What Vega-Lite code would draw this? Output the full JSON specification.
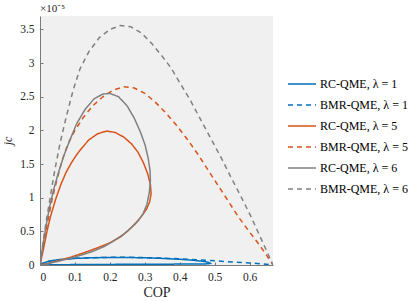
{
  "$schema": "https://vega.github.io/schema/vega-lite/v6.json",
  "width": 233,
  "height": 249,
  "autosize": {"type": "none"},
  "padding": {"left": 40, "top": 16, "right": 142, "bottom": 36},
  "background": "white",
  "title": {"text": "×10⁻⁵", "anchor": "start", "frame": "group", "font": "Liberation Serif", "fontSize": 11, "fontWeight": "normal", "color": "#262626", "offset": 2},
  "config": {
    "font": "Liberation Serif",
    "view": {"fill": "#F0F0F0", "stroke": null},
    "axis": {"grid": false, "labelFont": "Liberation Serif", "titleFont": "Liberation Serif", "labelFontSize": 11.5, "labelColor": "#262626", "titleFontWeight": "normal", "titleColor": "#262626", "domainColor": "#7a7a7a", "tickColor": "#7a7a7a", "tickSize": -3, "labelPadding": 9},
    "legend": {"labelFont": "Liberation Serif", "orient": "none", "legendX": 247, "legendY": 53}
  },
  "data": {"values": [
    {"s":"RC-QME, λ = 1","i":0,"x":0,"y":0},
    {"s":"RC-QME, λ = 1","i":1,"x":0.01,"y":0.03},
    {"s":"RC-QME, λ = 1","i":2,"x":0.025,"y":0.055},
    {"s":"RC-QME, λ = 1","i":3,"x":0.05,"y":0.078},
    {"s":"RC-QME, λ = 1","i":4,"x":0.1,"y":0.098},
    {"s":"RC-QME, λ = 1","i":5,"x":0.15,"y":0.108},
    {"s":"RC-QME, λ = 1","i":6,"x":0.2,"y":0.112},
    {"s":"RC-QME, λ = 1","i":7,"x":0.25,"y":0.112},
    {"s":"RC-QME, λ = 1","i":8,"x":0.3,"y":0.107},
    {"s":"RC-QME, λ = 1","i":9,"x":0.35,"y":0.098},
    {"s":"RC-QME, λ = 1","i":10,"x":0.4,"y":0.085},
    {"s":"RC-QME, λ = 1","i":11,"x":0.44,"y":0.07},
    {"s":"RC-QME, λ = 1","i":12,"x":0.47,"y":0.052},
    {"s":"RC-QME, λ = 1","i":13,"x":0.485,"y":0.035},
    {"s":"RC-QME, λ = 1","i":14,"x":0.488,"y":0.022},
    {"s":"RC-QME, λ = 1","i":15,"x":0.475,"y":0.016},
    {"s":"RC-QME, λ = 1","i":16,"x":0.42,"y":0.014},
    {"s":"RC-QME, λ = 1","i":17,"x":0.35,"y":0.012},
    {"s":"RC-QME, λ = 1","i":18,"x":0.25,"y":0.01},
    {"s":"RC-QME, λ = 1","i":19,"x":0.15,"y":0.008},
    {"s":"RC-QME, λ = 1","i":20,"x":0.07,"y":0.005},
    {"s":"RC-QME, λ = 1","i":21,"x":0,"y":0},
    {"s":"BMR-QME, λ = 1","i":0,"x":0,"y":0},
    {"s":"BMR-QME, λ = 1","i":1,"x":0.01,"y":0.03},
    {"s":"BMR-QME, λ = 1","i":2,"x":0.025,"y":0.055},
    {"s":"BMR-QME, λ = 1","i":3,"x":0.05,"y":0.078},
    {"s":"BMR-QME, λ = 1","i":4,"x":0.1,"y":0.099},
    {"s":"BMR-QME, λ = 1","i":5,"x":0.15,"y":0.109},
    {"s":"BMR-QME, λ = 1","i":6,"x":0.2,"y":0.114},
    {"s":"BMR-QME, λ = 1","i":7,"x":0.25,"y":0.114},
    {"s":"BMR-QME, λ = 1","i":8,"x":0.3,"y":0.11},
    {"s":"BMR-QME, λ = 1","i":9,"x":0.35,"y":0.102},
    {"s":"BMR-QME, λ = 1","i":10,"x":0.4,"y":0.092},
    {"s":"BMR-QME, λ = 1","i":11,"x":0.45,"y":0.078},
    {"s":"BMR-QME, λ = 1","i":12,"x":0.5,"y":0.062},
    {"s":"BMR-QME, λ = 1","i":13,"x":0.55,"y":0.046},
    {"s":"BMR-QME, λ = 1","i":14,"x":0.6,"y":0.03},
    {"s":"BMR-QME, λ = 1","i":15,"x":0.635,"y":0.017},
    {"s":"BMR-QME, λ = 1","i":16,"x":0.667,"y":0},
    {"s":"RC-QME, λ = 5","i":0,"x":0,"y":0},
    {"s":"RC-QME, λ = 5","i":1,"x":0.004,"y":0.1},
    {"s":"RC-QME, λ = 5","i":2,"x":0.01,"y":0.24},
    {"s":"RC-QME, λ = 5","i":3,"x":0.02,"y":0.5},
    {"s":"RC-QME, λ = 5","i":4,"x":0.03,"y":0.72},
    {"s":"RC-QME, λ = 5","i":5,"x":0.045,"y":0.98},
    {"s":"RC-QME, λ = 5","i":6,"x":0.06,"y":1.2},
    {"s":"RC-QME, λ = 5","i":7,"x":0.075,"y":1.38},
    {"s":"RC-QME, λ = 5","i":8,"x":0.09,"y":1.52},
    {"s":"RC-QME, λ = 5","i":9,"x":0.105,"y":1.64},
    {"s":"RC-QME, λ = 5","i":10,"x":0.12,"y":1.74},
    {"s":"RC-QME, λ = 5","i":11,"x":0.14,"y":1.86},
    {"s":"RC-QME, λ = 5","i":12,"x":0.165,"y":1.95},
    {"s":"RC-QME, λ = 5","i":13,"x":0.19,"y":1.99},
    {"s":"RC-QME, λ = 5","i":14,"x":0.215,"y":1.97},
    {"s":"RC-QME, λ = 5","i":15,"x":0.24,"y":1.9},
    {"s":"RC-QME, λ = 5","i":16,"x":0.262,"y":1.8},
    {"s":"RC-QME, λ = 5","i":17,"x":0.28,"y":1.68},
    {"s":"RC-QME, λ = 5","i":18,"x":0.296,"y":1.52},
    {"s":"RC-QME, λ = 5","i":19,"x":0.308,"y":1.36},
    {"s":"RC-QME, λ = 5","i":20,"x":0.316,"y":1.2},
    {"s":"RC-QME, λ = 5","i":21,"x":0.318,"y":1.06},
    {"s":"RC-QME, λ = 5","i":22,"x":0.314,"y":0.94},
    {"s":"RC-QME, λ = 5","i":23,"x":0.305,"y":0.83},
    {"s":"RC-QME, λ = 5","i":24,"x":0.29,"y":0.72},
    {"s":"RC-QME, λ = 5","i":25,"x":0.27,"y":0.6},
    {"s":"RC-QME, λ = 5","i":26,"x":0.25,"y":0.5},
    {"s":"RC-QME, λ = 5","i":27,"x":0.234,"y":0.43},
    {"s":"RC-QME, λ = 5","i":28,"x":0.2,"y":0.33},
    {"s":"RC-QME, λ = 5","i":29,"x":0.167,"y":0.26},
    {"s":"RC-QME, λ = 5","i":30,"x":0.13,"y":0.19},
    {"s":"RC-QME, λ = 5","i":31,"x":0.09,"y":0.12},
    {"s":"RC-QME, λ = 5","i":32,"x":0.05,"y":0.06},
    {"s":"RC-QME, λ = 5","i":33,"x":0.02,"y":0.02},
    {"s":"RC-QME, λ = 5","i":34,"x":0,"y":0},
    {"s":"BMR-QME, λ = 5","i":0,"x":0,"y":0},
    {"s":"BMR-QME, λ = 5","i":1,"x":0.006,"y":0.18},
    {"s":"BMR-QME, λ = 5","i":2,"x":0.015,"y":0.45},
    {"s":"BMR-QME, λ = 5","i":3,"x":0.025,"y":0.72},
    {"s":"BMR-QME, λ = 5","i":4,"x":0.034,"y":0.96},
    {"s":"BMR-QME, λ = 5","i":5,"x":0.05,"y":1.3},
    {"s":"BMR-QME, λ = 5","i":6,"x":0.065,"y":1.58},
    {"s":"BMR-QME, λ = 5","i":7,"x":0.08,"y":1.8},
    {"s":"BMR-QME, λ = 5","i":8,"x":0.1,"y":2.0},
    {"s":"BMR-QME, λ = 5","i":9,"x":0.125,"y":2.2},
    {"s":"BMR-QME, λ = 5","i":10,"x":0.15,"y":2.36},
    {"s":"BMR-QME, λ = 5","i":11,"x":0.18,"y":2.5},
    {"s":"BMR-QME, λ = 5","i":12,"x":0.21,"y":2.6},
    {"s":"BMR-QME, λ = 5","i":13,"x":0.24,"y":2.65},
    {"s":"BMR-QME, λ = 5","i":14,"x":0.27,"y":2.63},
    {"s":"BMR-QME, λ = 5","i":15,"x":0.3,"y":2.55},
    {"s":"BMR-QME, λ = 5","i":16,"x":0.33,"y":2.42},
    {"s":"BMR-QME, λ = 5","i":17,"x":0.36,"y":2.26},
    {"s":"BMR-QME, λ = 5","i":18,"x":0.39,"y":2.08},
    {"s":"BMR-QME, λ = 5","i":19,"x":0.42,"y":1.88},
    {"s":"BMR-QME, λ = 5","i":20,"x":0.45,"y":1.66},
    {"s":"BMR-QME, λ = 5","i":21,"x":0.48,"y":1.42},
    {"s":"BMR-QME, λ = 5","i":22,"x":0.51,"y":1.18},
    {"s":"BMR-QME, λ = 5","i":23,"x":0.54,"y":0.94},
    {"s":"BMR-QME, λ = 5","i":24,"x":0.57,"y":0.7},
    {"s":"BMR-QME, λ = 5","i":25,"x":0.6,"y":0.49},
    {"s":"BMR-QME, λ = 5","i":26,"x":0.625,"y":0.32},
    {"s":"BMR-QME, λ = 5","i":27,"x":0.648,"y":0.15},
    {"s":"BMR-QME, λ = 5","i":28,"x":0.667,"y":0},
    {"s":"RC-QME, λ = 6","i":0,"x":0,"y":0},
    {"s":"RC-QME, λ = 6","i":1,"x":0.004,"y":0.15},
    {"s":"RC-QME, λ = 6","i":2,"x":0.01,"y":0.35},
    {"s":"RC-QME, λ = 6","i":3,"x":0.018,"y":0.6},
    {"s":"RC-QME, λ = 6","i":4,"x":0.027,"y":0.85},
    {"s":"RC-QME, λ = 6","i":5,"x":0.038,"y":1.1},
    {"s":"RC-QME, λ = 6","i":6,"x":0.052,"y":1.36},
    {"s":"RC-QME, λ = 6","i":7,"x":0.068,"y":1.62},
    {"s":"RC-QME, λ = 6","i":8,"x":0.085,"y":1.85},
    {"s":"RC-QME, λ = 6","i":9,"x":0.105,"y":2.1},
    {"s":"RC-QME, λ = 6","i":10,"x":0.13,"y":2.32},
    {"s":"RC-QME, λ = 6","i":11,"x":0.155,"y":2.47},
    {"s":"RC-QME, λ = 6","i":12,"x":0.18,"y":2.54},
    {"s":"RC-QME, λ = 6","i":13,"x":0.2,"y":2.55},
    {"s":"RC-QME, λ = 6","i":14,"x":0.225,"y":2.5},
    {"s":"RC-QME, λ = 6","i":15,"x":0.25,"y":2.36},
    {"s":"RC-QME, λ = 6","i":16,"x":0.27,"y":2.18},
    {"s":"RC-QME, λ = 6","i":17,"x":0.288,"y":1.97},
    {"s":"RC-QME, λ = 6","i":18,"x":0.301,"y":1.78},
    {"s":"RC-QME, λ = 6","i":19,"x":0.31,"y":1.58},
    {"s":"RC-QME, λ = 6","i":20,"x":0.315,"y":1.4},
    {"s":"RC-QME, λ = 6","i":21,"x":0.316,"y":1.25},
    {"s":"RC-QME, λ = 6","i":22,"x":0.313,"y":1.08},
    {"s":"RC-QME, λ = 6","i":23,"x":0.306,"y":0.9},
    {"s":"RC-QME, λ = 6","i":24,"x":0.295,"y":0.76},
    {"s":"RC-QME, λ = 6","i":25,"x":0.28,"y":0.65},
    {"s":"RC-QME, λ = 6","i":26,"x":0.26,"y":0.55},
    {"s":"RC-QME, λ = 6","i":27,"x":0.24,"y":0.46},
    {"s":"RC-QME, λ = 6","i":28,"x":0.215,"y":0.37},
    {"s":"RC-QME, λ = 6","i":29,"x":0.186,"y":0.28},
    {"s":"RC-QME, λ = 6","i":30,"x":0.15,"y":0.2},
    {"s":"RC-QME, λ = 6","i":31,"x":0.12,"y":0.15},
    {"s":"RC-QME, λ = 6","i":32,"x":0.09,"y":0.105},
    {"s":"RC-QME, λ = 6","i":33,"x":0.06,"y":0.065},
    {"s":"RC-QME, λ = 6","i":34,"x":0.03,"y":0.03},
    {"s":"RC-QME, λ = 6","i":35,"x":0,"y":0},
    {"s":"BMR-QME, λ = 6","i":0,"x":0,"y":0},
    {"s":"BMR-QME, λ = 6","i":1,"x":0.005,"y":0.2},
    {"s":"BMR-QME, λ = 6","i":2,"x":0.012,"y":0.45},
    {"s":"BMR-QME, λ = 6","i":3,"x":0.02,"y":0.72},
    {"s":"BMR-QME, λ = 6","i":4,"x":0.029,"y":1.0},
    {"s":"BMR-QME, λ = 6","i":5,"x":0.042,"y":1.4},
    {"s":"BMR-QME, λ = 6","i":6,"x":0.057,"y":1.8},
    {"s":"BMR-QME, λ = 6","i":7,"x":0.075,"y":2.2},
    {"s":"BMR-QME, λ = 6","i":8,"x":0.095,"y":2.6},
    {"s":"BMR-QME, λ = 6","i":9,"x":0.115,"y":2.92},
    {"s":"BMR-QME, λ = 6","i":10,"x":0.14,"y":3.17},
    {"s":"BMR-QME, λ = 6","i":11,"x":0.17,"y":3.38},
    {"s":"BMR-QME, λ = 6","i":12,"x":0.2,"y":3.5},
    {"s":"BMR-QME, λ = 6","i":13,"x":0.23,"y":3.56},
    {"s":"BMR-QME, λ = 6","i":14,"x":0.26,"y":3.54},
    {"s":"BMR-QME, λ = 6","i":15,"x":0.29,"y":3.45},
    {"s":"BMR-QME, λ = 6","i":16,"x":0.32,"y":3.29},
    {"s":"BMR-QME, λ = 6","i":17,"x":0.35,"y":3.1},
    {"s":"BMR-QME, λ = 6","i":18,"x":0.375,"y":2.93},
    {"s":"BMR-QME, λ = 6","i":19,"x":0.4,"y":2.71},
    {"s":"BMR-QME, λ = 6","i":20,"x":0.43,"y":2.45},
    {"s":"BMR-QME, λ = 6","i":21,"x":0.46,"y":2.16},
    {"s":"BMR-QME, λ = 6","i":22,"x":0.49,"y":1.87},
    {"s":"BMR-QME, λ = 6","i":23,"x":0.52,"y":1.58},
    {"s":"BMR-QME, λ = 6","i":24,"x":0.546,"y":1.31},
    {"s":"BMR-QME, λ = 6","i":25,"x":0.575,"y":1.02},
    {"s":"BMR-QME, λ = 6","i":26,"x":0.603,"y":0.73},
    {"s":"BMR-QME, λ = 6","i":27,"x":0.625,"y":0.48},
    {"s":"BMR-QME, λ = 6","i":28,"x":0.647,"y":0.23},
    {"s":"BMR-QME, λ = 6","i":29,"x":0.667,"y":0}
  ]},
  "mark": {"type": "line", "strokeWidth": 1.5, "clip": true},
  "encoding": {
    "x": {"field": "x", "type": "quantitative", "scale": {"domain": [0, 0.667], "nice": false}, "axis": {"values": [0, 0.1, 0.2, 0.3, 0.4, 0.5, 0.6], "format": "~g", "title": "COP", "titleFontSize": 14, "titlePadding": 3}},
    "y": {"field": "y", "type": "quantitative", "scale": {"domain": [0, 3.7], "nice": false}, "axis": {"values": [0, 0.5, 1, 1.5, 2, 2.5, 3, 3.5], "format": "~g", "title": "jc", "titleFontStyle": "italic", "titleFontSize": 12, "titlePadding": 5}},
    "order": {"field": "i", "type": "quantitative"},
    "color": {"field": "s", "type": "nominal", "scale": {"domain": ["RC-QME, λ = 1", "BMR-QME, λ = 1", "RC-QME, λ = 5", "BMR-QME, λ = 5", "RC-QME, λ = 6", "BMR-QME, λ = 6"], "range": ["#0072BD", "#0072BD", "#D95319", "#D95319", "#808080", "#808080"]}, "legend": {"title": null, "symbolType": "stroke", "symbolSize": 784, "symbolStrokeWidth": 1.5, "labelFontSize": 12, "labelColor": "#000", "labelOffset": 3, "padding": 0, "rowPadding": -2.5}},
    "strokeDash": {"field": "s", "type": "nominal", "scale": {"domain": ["RC-QME, λ = 1", "BMR-QME, λ = 1", "RC-QME, λ = 5", "BMR-QME, λ = 5", "RC-QME, λ = 6", "BMR-QME, λ = 6"], "range": [[1, 0], [5, 4], [1, 0], [5, 4], [1, 0], [5, 4]]}}
  }
}
